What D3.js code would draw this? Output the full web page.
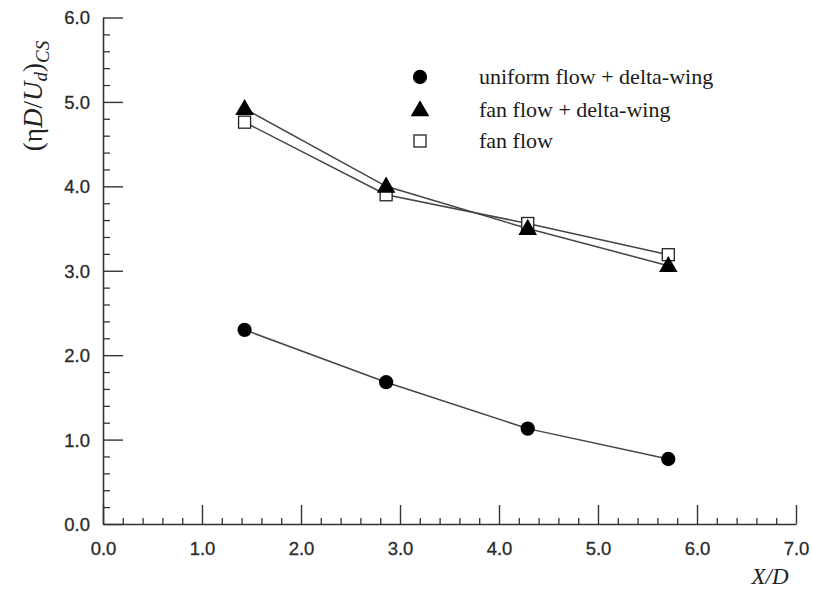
<!DOCTYPE html>
<html>
<head>
<meta charset="utf-8">
<script src="https://cdn.jsdelivr.net/npm/d3@7"></script>
<style>
  body { margin: 0; background: #fff; }
  .tick text { font-family: "Liberation Sans", Arial, sans-serif; font-size: 18.5px; fill: #2a2a2a; stroke: #2a2a2a; stroke-width: 0.3px; }
</style>
</head>
<body>
<div class="container"></div>
<script>
// X/D stations
const xValues = [1.43, 2.86, 4.29, 5.71];

// series values
const uniformDelta = [2.30, 1.68, 1.13, 0.77];
const fanDelta = [4.92, 4.00, 3.50, 3.06];
const fanFlow = [4.76, 3.90, 3.56, 3.19];

const xTicks = [0, 1, 2, 3, 4, 5, 6, 7];
const yTicks = [0, 1, 2, 3, 4, 5, 6];
const seriesNames = ["uniform flow + delta-wing", "fan flow + delta-wing", "fan flow"];

const width = 813;
const height = 594;

const svg = d3.select(".container")
  .append("svg")
  .attr("width", width)
  .attr("height", height);

const x = d3.scaleLinear().domain([0, 7]).range([103, 796]);
const y = d3.scaleLinear().domain([0, 6]).range([524, 17.5]);

const axisColor = "#333";

// minor ticks every 0.2, major every 1.0, both pointing into the plot
const minorX = d3.range(0, 7.001, 0.2).filter(v => Math.abs(v - Math.round(v)) > 0.01);
const minorY = d3.range(0, 6.001, 0.2).filter(v => Math.abs(v - Math.round(v)) > 0.01);

// x axis
const xAxis = svg.append("g")
  .attr("transform", "translate(0," + y(0) + ")")
  .call(d3.axisBottom(x).tickValues(xTicks).tickFormat(d3.format(".1f")).tickSize(-19).tickPadding(31).tickSizeOuter(0));
xAxis.select(".domain").attr("stroke", axisColor).attr("stroke-width", 1.6);
xAxis.selectAll(".tick line").attr("stroke", axisColor).attr("stroke-width", 1.4);
xAxis.selectAll(".tick text").attr("dy", "0");

svg.append("g")
  .attr("transform", "translate(0," + y(0) + ")")
  .call(d3.axisBottom(x).tickValues(minorX).tickSize(-6).tickFormat(""))
  .call(g => g.select(".domain").remove())
  .selectAll(".tick line").attr("stroke", axisColor).attr("stroke-width", 1.3);

// y axis
const yAxis = svg.append("g")
  .attr("transform", "translate(" + x(0) + ",0)")
  .call(d3.axisLeft(y).tickValues(yTicks).tickFormat(d3.format(".1f")).tickSize(-20).tickPadding(13).tickSizeOuter(0));
yAxis.select(".domain").attr("stroke", axisColor).attr("stroke-width", 1.6);
yAxis.selectAll(".tick line").attr("stroke", axisColor).attr("stroke-width", 1.4);
yAxis.selectAll(".tick text").attr("dy", "0.35em");

svg.append("g")
  .attr("transform", "translate(" + x(0) + ",0)")
  .call(d3.axisLeft(y).tickValues(minorY).tickSize(-7).tickFormat(""))
  .call(g => g.select(".domain").remove())
  .selectAll(".tick line").attr("stroke", axisColor).attr("stroke-width", 1.3);

// axis titles
svg.append("text")
  .attr("x", 770)
  .attr("y", 584)
  .attr("text-anchor", "middle")
  .style("font-family", "'Liberation Serif', 'Times New Roman', serif")
  .style("font-style", "italic")
  .style("font-size", "23px")
  .attr("fill", "#222")
  .text("X/D");

const yTitle = svg.append("text")
  .attr("transform", "translate(42,96) rotate(-90)")
  .attr("text-anchor", "middle")
  .style("font-family", "'Liberation Serif', 'Times New Roman', serif")
  .style("font-size", "27px")
  .attr("fill", "#222");
yTitle.append("tspan").text("(η");
yTitle.append("tspan").style("font-style", "italic").text("D");
yTitle.append("tspan").text("/");
yTitle.append("tspan").style("font-style", "italic").text("U");
yTitle.append("tspan").style("font-style", "italic").style("font-size", "19px").attr("dy", 5).text("d");
yTitle.append("tspan").attr("dy", -5).text(")");
yTitle.append("tspan").style("font-style", "italic").style("font-size", "19px").attr("dy", 7).text("CS");

// lines
const line = d3.line()
  .x((d, i) => x(xValues[i]))
  .y(d => y(d));

[uniformDelta, fanDelta, fanFlow].forEach(s => {
  svg.append("path")
    .datum(s)
    .attr("d", line)
    .attr("fill", "none")
    .attr("stroke", "#444")
    .attr("stroke-width", 1.5);
});

// marker helpers
const circleSym = d3.symbol().type(d3.symbolCircle).size(160);
const triSym = d3.symbol().type(d3.symbolTriangle).size(150);

const drawCircle = (g, cx, cy) => g.append("path")
  .attr("d", circleSym).attr("transform", "translate(" + cx + "," + cy + ")")
  .attr("fill", "#000");
const drawTri = (g, cx, cy) => g.append("path")
  .attr("d", triSym).attr("transform", "translate(" + cx + "," + (cy + 1) + ")")
  .attr("fill", "#000");
const drawSquare = (g, cx, cy) => g.append("rect")
  .attr("x", cx - 6).attr("y", cy - 6).attr("width", 12).attr("height", 12)
  .attr("fill", "#fff").attr("stroke", "#222").attr("stroke-width", 1.3);

const marks = svg.append("g");
fanFlow.forEach((v, i) => drawSquare(marks, x(xValues[i]), y(v)));
fanDelta.forEach((v, i) => drawTri(marks, x(xValues[i]), y(v)));
uniformDelta.forEach((v, i) => drawCircle(marks, x(xValues[i]), y(v)));

// legend
const legend = svg.append("g").attr("id", "legend");
const legendY = [77, 110, 141];
drawCircle(legend, 420, legendY[0]);
drawTri(legend, 420, legendY[1]);
drawSquare(legend, 420, legendY[2]);
seriesNames.forEach((n, i) => {
  legend.append("text")
    .attr("x", 479)
    .attr("y", legendY[i] + 7)
    .style("font-family", "'Liberation Serif', 'Times New Roman', serif")
    .style("font-size", "22px")
    .attr("fill", "#1a1a1a")
    .text(n);
});
</script>
</body>
</html>
